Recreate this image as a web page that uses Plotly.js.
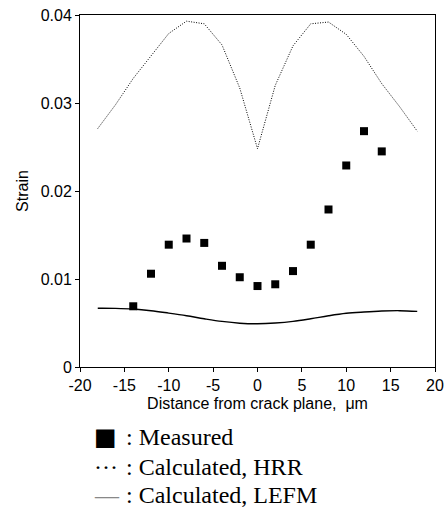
<!DOCTYPE html>
<html>
<head>
<meta charset="utf-8">
<script src="https://cdn.plot.ly/plotly-3.0.1.min.js"></script>
<style>html,body{margin:0;padding:0;background:#fff;}#chart{width:445px;height:508px;}</style>
</head>
<body>
<div id="chart"></div>
<script>
// Measured strain
const measuredX = [-14, -12, -10, -8, -6, -4, -2, 0, 2, 4, 6, 8, 10, 12, 14];
const measuredY = [0.0069, 0.0106, 0.0139, 0.0146, 0.0141, 0.0115, 0.0102, 0.0092, 0.0094, 0.0109, 0.0139, 0.0179, 0.0229, 0.0268, 0.0245];

// Calculated, HRR
const hrrX = [-18, -16, -14, -12, -10, -8, -6, -4, -2, 0, 2, 4, 6, 8, 10, 12, 14, 16, 18];
const hrrY = [0.0271, 0.0298, 0.0328, 0.0353, 0.0379, 0.0393, 0.0390, 0.0366, 0.0317, 0.0248, 0.0320, 0.0365, 0.0390, 0.0392, 0.0378, 0.0353, 0.0322, 0.0296, 0.0268];

// Calculated, LEFM
const lefmX = [-18, -16, -14, -12, -10, -8, -6, -4, -2, 0, 2, 4, 6, 8, 10, 12, 14, 16, 18];
const lefmY = [0.00667, 0.00666, 0.00659, 0.00640, 0.00612, 0.00582, 0.00548, 0.00518, 0.00498, 0.00492, 0.00500, 0.00518, 0.00548, 0.00582, 0.00610, 0.00625, 0.00636, 0.00640, 0.00632];

// Axis ticks
const xTicks = [-20, -15, -10, -5, 0, 5, 10, 15, 20];
const xTickLabels = ['-20', '-15', '-10', '-5', '0', '5', '10', '15', '20'];
const yTicks = [0, 0.01, 0.02, 0.03, 0.04];
const yTickLabels = ['0', '0.01', '0.02', '0.03', '0.04'];

// Legend entries
const legendSymbols = ['\u25A0', '\u00B7\u00B7\u00B7', '\u2014'];
const legendLabels = [': Measured', ': Calculated, HRR', ': Calculated, LEFM'];
const legendSymbolColors = ['#000', '#000', '#888'];

const sans = 'Liberation Sans, Arial, Helvetica, sans-serif';
const serif = 'Liberation Serif, Times New Roman, serif';

const traces = [
  {x: hrrX, y: hrrY, mode: 'lines', line: {color: '#000', width: 1, dash: '1px,1.5px'}, showlegend: false, hoverinfo: 'skip'},
  {x: lefmX, y: lefmY, mode: 'lines', line: {color: '#000', width: 1.4, shape: 'spline'}, showlegend: false, hoverinfo: 'skip'},
  {x: measuredX, y: measuredY, mode: 'markers', marker: {symbol: 'square', size: 8, color: '#000'}, showlegend: false}
];

const rowY = [-0.199, -0.284, -0.364];
const annotations = [];
legendSymbols.forEach((s, i) => {
  annotations.push({xref: 'paper', yref: 'paper', x: 0.034, y: rowY[i], xanchor: 'left', yanchor: 'middle', showarrow: false,
    text: s, font: {family: i === 0 ? 'DejaVu Sans' : serif, size: 24, color: legendSymbolColors[i]}});
  annotations.push({xref: 'paper', yref: 'paper', x: 0.124, y: rowY[i], xanchor: 'left', yanchor: 'middle', showarrow: false,
    text: legendLabels[i], font: {family: serif, size: 24, color: '#000'}});
});

const layout = {
  width: 445, height: 508,
  margin: {l: 80, r: 10, t: 15, b: 141},
  paper_bgcolor: '#fff', plot_bgcolor: '#fff',
  showlegend: false,
  font: {family: sans, color: '#000'},
  xaxis: {
    range: [-20, 20], tickvals: xTicks, ticktext: xTickLabels, ticks: 'outside', ticklen: 4, tickcolor: '#000',
    showgrid: false, zeroline: false, showline: true, linecolor: '#000', linewidth: 1, mirror: true,
    tickfont: {family: sans, size: 16, color: '#000'},
    title: {text: 'Distance from crack plane,  \u03BCm', font: {family: sans, size: 16, color: '#000'}, standoff: 4}
  },
  yaxis: {
    range: [0, 0.04], tickvals: yTicks, ticktext: yTickLabels, ticks: 'outside', ticklen: 4, tickcolor: '#000',
    showgrid: false, zeroline: false, showline: true, linecolor: '#000', linewidth: 1, mirror: true,
    tickfont: {family: sans, size: 16, color: '#000'},
    title: {text: 'Strain', font: {family: sans, size: 16, color: '#000'}, standoff: 8}
  },
  annotations: annotations
};

Plotly.newPlot('chart', traces, layout, {staticPlot: true, displayModeBar: false});
</script>
</body>
</html>
